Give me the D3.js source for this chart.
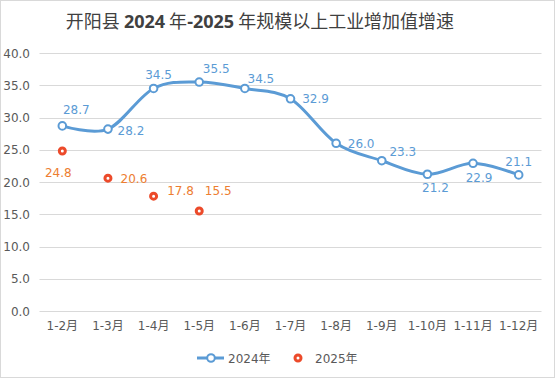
<!DOCTYPE html>
<html>
<head>
<meta charset="utf-8">
<script src="https://cdn.jsdelivr.net/npm/d3@7"></script>
<style>
  body { margin: 0; background: #fff; }
  text { font-family: "DejaVu Sans", "Noto Sans CJK SC", sans-serif; }
</style>
</head>
<body>
<script>
// chart data
var months = ["1-2月", "1-3月", "1-4月", "1-5月", "1-6月", "1-7月", "1-8月", "1-9月", "1-10月", "1-11月", "1-12月"];
var values2024 = [28.7, 28.2, 34.5, 35.5, 34.5, 32.9, 26.0, 23.3, 21.2, 22.9, 21.1];
var values2025 = [24.8, 20.6, 17.8, 15.5];
var yTicks = [0, 5, 10, 15, 20, 25, 30, 35, 40];

// label offsets (dx, dy) relative to each point
var off2024 = [[14, -16], [23, 1], [5, -14], [17, -14], [16, -10], [25, 0], [25, 0], [21, -9], [8, 13], [6, 14], [0, -13]];
var off2025 = [[-4, 21], [26, 0], [27, -6], [19, -21]];

var width = 559, height = 381;
var blue = "#5b9bd5", orange = "#ed7d31", red = "#ec4a2a";

var svg = d3.select("body").append("svg")
  .attr("width", width)
  .attr("height", height);

svg.append("rect")
  .attr("x", 0.5).attr("y", 0.5)
  .attr("width", 554).attr("height", 377)
  .attr("fill", "#fff")
  .attr("stroke", "#d9d9d9");

var x = d3.scaleBand().domain(months).range([39.5, 541.5]);
var y = d3.scaleLinear().domain([0, 40]).range([311, 53]);
function cx(d, i) { return x(months[i]) + x.bandwidth() / 2; }

// title
var title = svg.append("text")
  .attr("x", 260).attr("y", 28)
  .attr("text-anchor", "middle")
  .attr("fill", "#404040")
  .style("font-family", "'Noto Sans CJK SC', sans-serif")
  .style("font-size", "18px");
title.append("tspan").text("开阳县 ");
title.append("tspan").style("font-weight", "bold").style("font-family", "'Open Sans', 'DejaVu Sans', sans-serif").text("2024");
title.append("tspan").text(" 年");
title.append("tspan").style("font-weight", "bold").style("font-family", "'Open Sans', 'DejaVu Sans', sans-serif").text("-2025");
title.append("tspan").text(" 年规模以上工业增加值增速");

// gridlines
svg.append("g").selectAll("line")
  .data(yTicks)
  .enter().append("line")
  .attr("x1", 39.5).attr("x2", 541.5)
  .attr("y1", function(d) { return Math.round(y(d)) + 0.5; })
  .attr("y2", function(d) { return Math.round(y(d)) + 0.5; })
  .attr("stroke", "#d9d9d9")
  .attr("stroke-width", 1);

// y axis labels
svg.append("g").selectAll("text")
  .data(yTicks)
  .enter().append("text")
  .attr("x", 30)
  .attr("y", function(d) { return y(d) + 4.5; })
  .attr("text-anchor", "end")
  .attr("fill", "#595959")
  .style("font-size", "12px")
  .text(function(d) { return d.toFixed(1); });

// x axis labels
svg.append("g").selectAll("text")
  .data(months)
  .enter().append("text")
  .attr("x", function(d) { return x(d) + x.bandwidth() / 2; })
  .attr("y", 330)
  .attr("text-anchor", "middle")
  .attr("fill", "#595959")
  .style("font-size", "12px")
  .text(function(d) { return d; });

// 2024 smooth line
var line = d3.line()
  .x(cx)
  .y(function(d) { return y(d); })
  .curve(d3.curveCardinal.tension(0));

svg.append("path")
  .datum(values2024)
  .attr("d", line)
  .attr("fill", "none")
  .attr("stroke", blue)
  .attr("stroke-width", 3)
  .attr("stroke-linecap", "round");

svg.append("g").selectAll("circle")
  .data(values2024)
  .enter().append("circle")
  .attr("cx", cx)
  .attr("cy", function(d) { return y(d); })
  .attr("r", 3.8)
  .attr("fill", "#fff")
  .attr("stroke", blue)
  .attr("stroke-width", 2);

svg.append("g").selectAll("text")
  .data(values2024)
  .enter().append("text")
  .attr("x", function(d, i) { return cx(d, i) + off2024[i][0]; })
  .attr("y", function(d, i) { return y(d) + off2024[i][1] + 4.5; })
  .attr("text-anchor", "middle")
  .attr("fill", blue)
  .style("font-size", "12px")
  .text(function(d) { return d.toFixed(1); });

// 2025 points
svg.append("g").selectAll("circle")
  .data(values2025)
  .enter().append("circle")
  .attr("cx", cx)
  .attr("cy", function(d) { return y(d); })
  .attr("r", 3)
  .attr("fill", "#fff")
  .attr("stroke", red)
  .attr("stroke-width", 3);

svg.append("g").selectAll("text")
  .data(values2025)
  .enter().append("text")
  .attr("x", function(d, i) { return cx(d, i) + off2025[i][0]; })
  .attr("y", function(d, i) { return y(d) + off2025[i][1] + 4.5; })
  .attr("text-anchor", "middle")
  .attr("fill", orange)
  .style("font-size", "12px")
  .text(function(d) { return d.toFixed(1); });

// legend
var lg = svg.append("g");
lg.append("line")
  .attr("x1", 197).attr("x2", 224)
  .attr("y1", 358).attr("y2", 358)
  .attr("stroke", blue).attr("stroke-width", 3);
lg.append("circle")
  .attr("cx", 211).attr("cy", 358).attr("r", 3.8)
  .attr("fill", "#fff").attr("stroke", blue).attr("stroke-width", 2);
lg.append("text")
  .attr("x", 228).attr("y", 362.5)
  .attr("fill", "#595959").style("font-size", "12px")
  .text("2024年");
lg.append("circle")
  .attr("cx", 298).attr("cy", 358).attr("r", 3)
  .attr("fill", "#fff").attr("stroke", red).attr("stroke-width", 3);
lg.append("text")
  .attr("x", 315).attr("y", 362.5)
  .attr("fill", "#595959").style("font-size", "12px")
  .text("2025年");
</script>
</body>
</html>
